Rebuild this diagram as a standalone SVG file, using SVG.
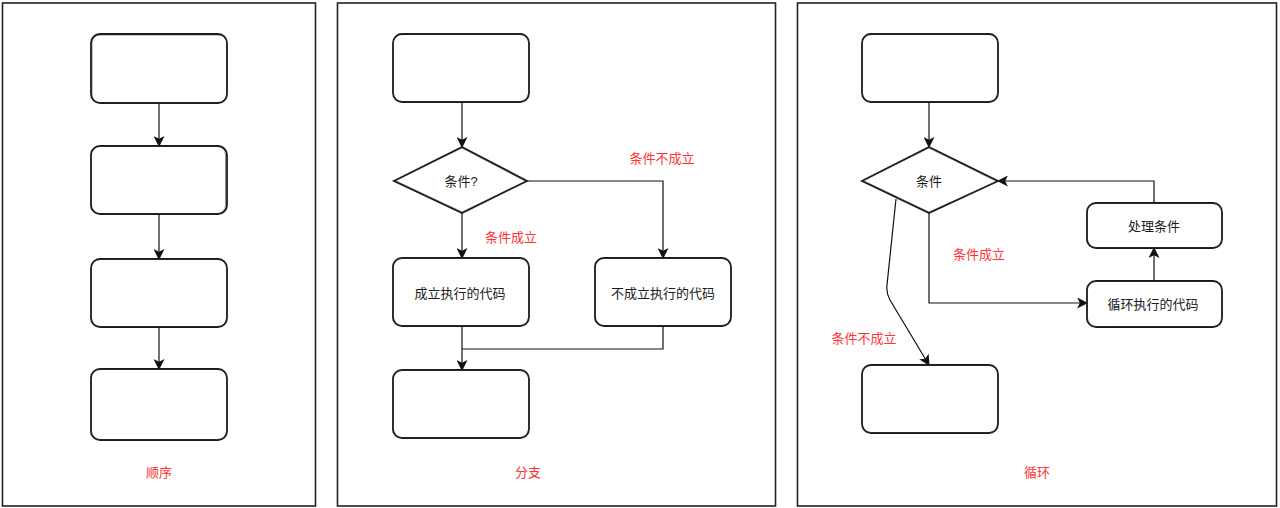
<svg xmlns="http://www.w3.org/2000/svg" width="1280" height="508" viewBox="0 0 1280 508">
<style>
.frame{fill:none;stroke:#222;stroke-width:1.6}
.box{fill:#fff;stroke:#1a1a1a;stroke-width:1.8}
.box2{fill:none;stroke:#333;stroke-width:0.8;opacity:0.7}
.edge{fill:none;stroke:#111;stroke-width:1.2}
.t{font-family:"Liberation Sans","Noto Sans CJK SC",sans-serif;font-size:13px;fill:#1a1a1a;text-anchor:middle;dominant-baseline:central}
.r{font-family:"Liberation Sans","Noto Sans CJK SC",sans-serif;font-size:13px;fill:#ff3333;text-anchor:middle;dominant-baseline:central}
</style>
<defs>
<marker id="arr" viewBox="0 0 10 10" refX="9" refY="5" markerWidth="11" markerHeight="11" markerUnits="userSpaceOnUse" orient="auto">
<path d="M0,0 L10,5 L0,10 L2.5,5 Z" fill="#111"/>
</marker>
</defs>
<rect width="1280" height="508" fill="#fff"/>
<g id="frames">
<rect class="frame" x="2.5" y="3" width="313" height="503"/>
<rect class="frame" x="337.5" y="3" width="438" height="503"/>
<rect class="frame" x="797.5" y="3" width="479" height="503"/>
</g>
<g id="connectors">
<path class="edge" d="M159,103 V146" marker-end="url(#arr)"/>
<path class="edge" d="M159,214 V259" marker-end="url(#arr)"/>
<path class="edge" d="M159,327 V369" marker-end="url(#arr)"/>
<path class="edge" d="M462,102 V147" marker-end="url(#arr)"/>
<path class="edge" d="M462,213 V258" marker-end="url(#arr)"/>
<path class="edge" d="M527,181 H663 V258" marker-end="url(#arr)"/>
<path class="edge" d="M462,326 V370" marker-end="url(#arr)"/>
<path class="edge" d="M663,326 V349 H462"/>
<path class="edge" d="M929,102 V147" marker-end="url(#arr)"/>
<path class="edge" d="M929,213 V303 H1087" marker-end="url(#arr)"/>
<path class="edge" d="M1154,281 V248" marker-end="url(#arr)"/>
<path class="edge" d="M1154,203 V181 H998" marker-end="url(#arr)"/>
<path class="edge" d="M896,199 L887,285 Q886,293 890,300 L929,365" marker-end="url(#arr)"/>
</g>
<g id="p1-box1"><rect class="box" x="91" y="34" width="136" height="69" rx="9"/><rect class="box2" x="92" y="35" width="135" height="68" rx="8"/></g>
<g id="p1-box2"><rect class="box" x="91" y="146" width="136" height="68" rx="9"/><rect class="box2" x="90.5" y="146.5" width="135" height="67" rx="8"/></g>
<g id="p1-box3"><rect class="box" x="91" y="259" width="136" height="68" rx="9"/><rect class="box2" x="91.5" y="259.5" width="135" height="67" rx="8"/></g>
<g id="p1-box4"><rect class="box" x="91" y="369" width="136" height="71" rx="9"/><rect class="box2" x="90.5" y="369.5" width="136" height="70" rx="8"/></g>
<g id="p2-box1"><rect class="box" x="393" y="34" width="136" height="68" rx="9"/><rect class="box2" x="393.5" y="33.5" width="135" height="68" rx="8"/></g>
<g id="p2-cond"><polygon class="box" points="462,147 527,181 462,213 394,181"/><polygon class="box2" points="462,148 526,181.5 462,212 395,180.5"/><text class="t" x="461" y="181">条件?</text></g>
<g id="p2-yes"><rect class="box" x="393" y="258" width="136" height="68" rx="9"/><rect class="box2" x="392.5" y="258.5" width="136" height="67" rx="8"/><text class="t" x="460" y="293">成立执行的代码</text></g>
<g id="p2-no"><rect class="box" x="595" y="258" width="136" height="68" rx="9"/><rect class="box2" x="594.5" y="258.5" width="136" height="67" rx="8"/><text class="t" x="663" y="293">不成立执行的代码</text></g>
<g id="p2-end"><rect class="box" x="393" y="370" width="136" height="68" rx="9"/><rect class="box2" x="392.5" y="370.5" width="136" height="67" rx="8"/></g>
<g id="p3-box1"><rect class="box" x="862" y="34" width="136" height="68" rx="9"/><rect class="box2" x="862.5" y="33.5" width="135" height="68" rx="8"/></g>
<g id="p3-cond"><polygon class="box" points="929,147 998,181 929,213 862,181"/><polygon class="box2" points="929,148 997,181.5 929,212 863,180.5"/><text class="t" x="929" y="181">条件</text></g>
<g id="p3-handle"><rect class="box" x="1087" y="203" width="135" height="45" rx="9"/><rect class="box2" x="1086.5" y="203.5" width="135" height="44" rx="8"/><text class="t" x="1154" y="226">处理条件</text></g>
<g id="p3-loop"><rect class="box" x="1087" y="281" width="135" height="46" rx="9"/><rect class="box2" x="1086.5" y="281.5" width="135" height="45" rx="8"/><text class="t" x="1153" y="304">循环执行的代码</text></g>
<g id="p3-end"><rect class="box" x="862" y="365" width="136" height="68" rx="9"/><rect class="box2" x="862.5" y="365.5" width="135" height="67" rx="8"/></g>
<g id="labels">
<text class="r" x="159" y="472">顺序</text>
<text class="r" x="528" y="472">分支</text>
<text class="r" x="1037" y="472">循环</text>
<text class="r" x="662" y="158">条件不成立</text>
<text class="r" x="511" y="237">条件成立</text>
<text class="r" x="979" y="254">条件成立</text>
<text class="r" x="864" y="338">条件不成立</text>
</g>
</svg>
